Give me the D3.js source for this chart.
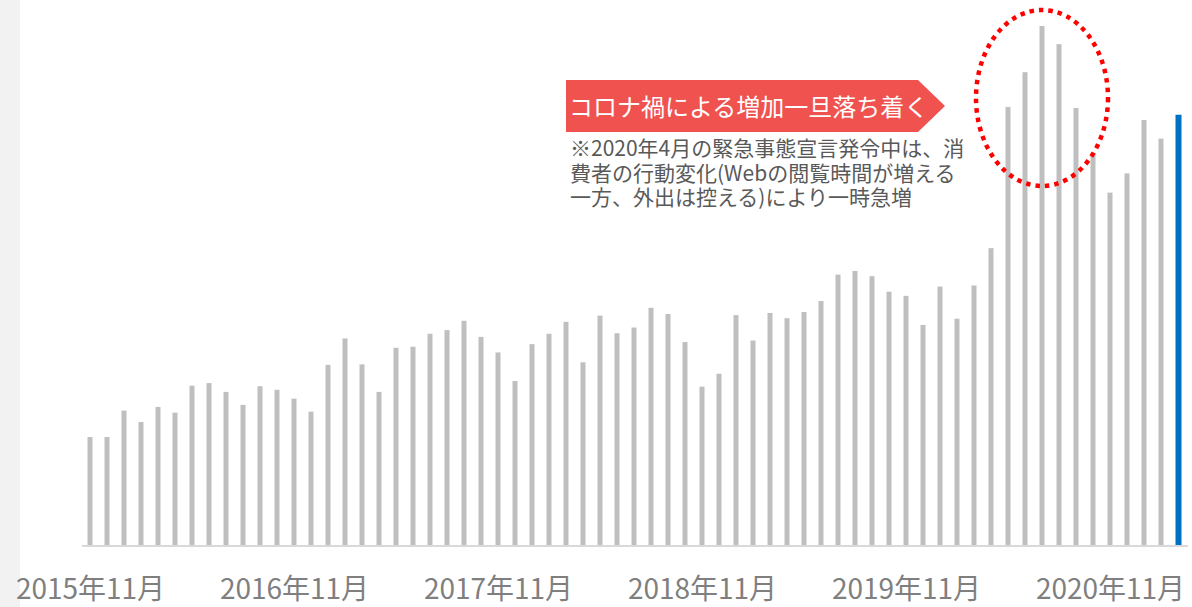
<!DOCTYPE html>
<html lang="ja">
<head>
<meta charset="utf-8">
<script src="https://cdn.jsdelivr.net/npm/d3@7"></script>
<style>
  html, body { margin: 0; padding: 0; background: #fff; }
  #chart { width: 1192px; height: 607px; }
  text { font-family: "Noto Sans CJK JP", "Noto Sans", sans-serif; }
</style>
</head>
<body>
<div id="chart"></div>
<script>
// 月別の指数 (2015年11月〜2021年3月)
const months = [
  '2015-11', '2015-12',
  '2016-01', '2016-02', '2016-03', '2016-04', '2016-05', '2016-06', '2016-07', '2016-08', '2016-09', '2016-10', '2016-11', '2016-12',
  '2017-01', '2017-02', '2017-03', '2017-04', '2017-05', '2017-06', '2017-07', '2017-08', '2017-09', '2017-10', '2017-11', '2017-12',
  '2018-01', '2018-02', '2018-03', '2018-04', '2018-05', '2018-06', '2018-07', '2018-08', '2018-09', '2018-10', '2018-11', '2018-12',
  '2019-01', '2019-02', '2019-03', '2019-04', '2019-05', '2019-06', '2019-07', '2019-08', '2019-09', '2019-10', '2019-11', '2019-12',
  '2020-01', '2020-02', '2020-03', '2020-04', '2020-05', '2020-06', '2020-07', '2020-08', '2020-09', '2020-10', '2020-11', '2020-12',
  '2021-01', '2021-02', '2021-03'
];
const values = [
  20.8, 20.8,
  25.9, 23.7, 26.6, 25.5, 30.7, 31.2, 29.5, 27.0, 30.6, 29.9, 28.2, 25.7,
  34.7, 39.8, 34.8, 29.5, 38.0, 38.2, 40.7, 41.4, 43.2, 40.1, 37.1, 31.6,
  38.7, 40.7, 43.0, 35.2, 44.2, 40.8, 41.9, 45.7, 44.5, 39.1, 30.5, 33.0,
  44.3, 39.4, 44.7, 43.7, 44.9, 47.0, 52.1, 52.8, 51.8, 48.8, 48.0, 42.4,
  49.8, 43.6, 50.0, 57.2, 84.4, 91.1, 100.0, 96.5, 84.2, 75.6, 67.9, 71.6,
  81.9, 78.3, 82.9
];
const tickMonths = ['2015-11', '2016-11', '2017-11', '2018-11', '2019-11', '2020-11'];
const tickLabel = d => `${d.slice(0, 4)}年${+d.slice(5)}月`;
const calloutTitle = 'コロナ禍による増加一旦落ち着く';
const calloutNote = [
  '※2020年4月の緊急事態宣言発令中は、消',
  '費者の行動変化(Webの閲覧時間が増える',
  '一方、外出は控える)により一時急増'
];
const peakMonths = ['2020-05', '2020-09'];

function drawChart() {
  const W = 1192, H = 607;
  const svg = d3.select('#chart').append('svg')
    .attr('width', W).attr('height', H)
    .attr('viewBox', `0 0 ${W} ${H}`);

  // 左端のグレー帯
  svg.append('rect').attr('x', 0).attr('y', 0).attr('width', 20).attr('height', H)
    .attr('fill', '#f2f2f2');

  const x = d3.scalePoint().domain(months).range([90, 1178]);
  const y = d3.scaleLinear().domain([0, 100]).range([545, 26]);
  const barW = 5;

  // 基準線
  svg.append('line')
    .attr('x1', 82).attr('x2', 1188).attr('y1', 546).attr('y2', 546)
    .attr('stroke', '#d9d9d9').attr('stroke-width', 2);

  // Bars
  const last = months[months.length - 1];
  svg.selectAll('.bar').data(months).join('rect')
    .attr('class', 'bar')
    .attr('x', d => x(d) - barW / 2)
    .attr('width', d => d === last ? barW + 1 : barW)
    .attr('y', (d, i) => y(values[i]))
    .attr('height', (d, i) => y(0) - y(values[i]))
    .attr('fill', d => d === last ? '#0070c0' : '#bfbfbf');

  // X axis labels
  svg.append('g').attr('transform', 'translate(0,577)')
    .call(d3.axisBottom(x).tickValues(tickMonths).tickFormat(tickLabel).tickSize(0).tickPadding(0))
    .call(g => g.select('.domain').remove())
    .selectAll('text')
    .attr('dy', '0.78em')
    .style('font-family', '"Noto Sans CJK JP", sans-serif')
    .style('font-size', '28px').style('fill', '#7f7f7f');

  // 点線の楕円 (ピーク部分)
  const cx = (x(peakMonths[0]) + x(peakMonths[1])) / 2;
  svg.append('ellipse')
    .attr('cx', cx).attr('cy', 98).attr('rx', 66).attr('ry', 88)
    .attr('fill', 'none').attr('stroke', '#ff0000')
    .attr('stroke-width', 4.5).attr('stroke-dasharray', '4.5 5');

  // 吹き出し(矢印型ラベル)
  const bx = 566, by = 80, bw = 352, bh = 52, tip = 27;
  svg.append('path')
    .attr('d', `M${bx},${by}H${bx + bw}L${bx + bw + tip},${by + bh / 2}L${bx + bw},${by + bh}H${bx}Z`)
    .attr('fill', '#f0524f');
  svg.append('text')
    .attr('x', bx + 3).attr('y', by + 36)
    .attr('fill', '#fff').attr('font-size', '24px')
    .text(calloutTitle);

  // 注記 (3行、1つのtext要素にまとめる)
  svg.append('text')
    .attr('x', 570).attr('y', 156)
    .attr('fill', '#595959').attr('font-size', '21px')
    .selectAll('tspan').data(calloutNote).join('tspan')
    .attr('x', 570).attr('dy', (d, i) => i === 0 ? 0 : 24.5)
    .text(d => d);
}

drawChart();
</script>
</body>
</html>
